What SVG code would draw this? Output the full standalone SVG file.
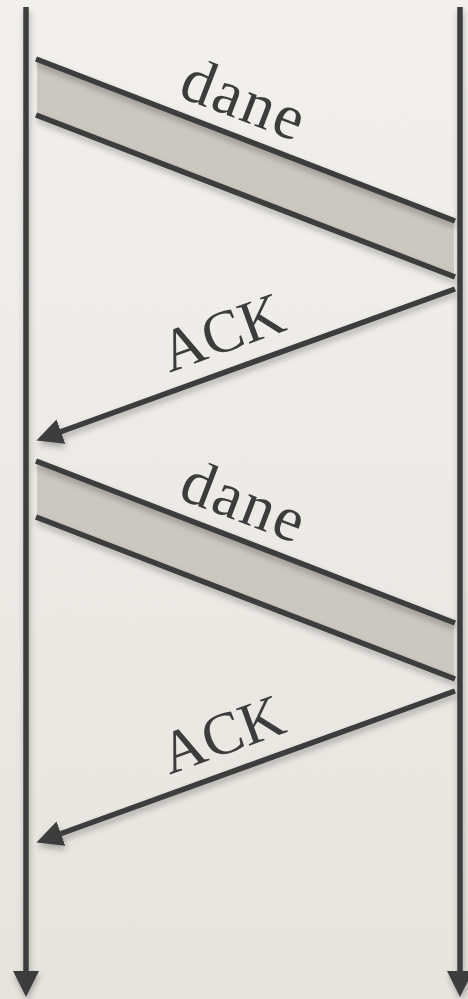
<svg xmlns="http://www.w3.org/2000/svg" width="468" height="999" viewBox="0 0 468 999">
<style>
.ln{stroke:#3c3c3c;stroke-width:5.5;fill:none}
.band{fill:#ccc7bf}
.lbl{font-family:"Liberation Serif","Times New Roman",serif;fill:#3c3c3c}
.d{font-size:64px;letter-spacing:2px}
.a{font-size:60px}
</style>
<defs>
<linearGradient id="bg" x1="0" y1="0" x2="0" y2="1">
<stop offset="0" stop-color="#f4f2ed"/>
<stop offset="1" stop-color="#e8e5df"/>
</linearGradient>
<filter id="tex" x="0" y="0" width="1" height="1">
<feTurbulence type="fractalNoise" baseFrequency="0.9" numOctaves="2" seed="3" result="n"/>
<feColorMatrix in="n" type="matrix" values="0 0 0 0 0.55  0 0 0 0 0.53  0 0 0 0 0.5  0 0 0 0.06 0" result="c"/>
<feComposite in="c" in2="SourceGraphic" operator="over"/>
</filter>
<filter id="sh" x="-10%" y="-10%" width="120%" height="130%">
<feDropShadow dx="1" dy="4" stdDeviation="3" flood-color="#000" flood-opacity="0.28"/>
</filter>
<marker id="ah" viewBox="0 0 26 26" refX="1" refY="13" markerWidth="26" markerHeight="26" markerUnits="userSpaceOnUse" orient="auto">
<path d="M0,0 L26,13 L0,26 z" fill="#3c3c3c"/>
</marker>
</defs>
<rect width="468" height="999" fill="url(#bg)" filter="url(#tex)"/>
<g id="timelines" filter="url(#sh)">
<line class="ln" x1="26" y1="7" x2="26" y2="972" marker-end="url(#ah)"/>
<line class="ln" x1="460" y1="7" x2="460" y2="972" marker-end="url(#ah)"/>
</g>
<g id="dane1">
<polygon class="band" points="37,62 454,223 454,276 37,115"/>
<g filter="url(#sh)">
<line class="ln" x1="36" y1="59" x2="455" y2="221"/>
<line class="ln" x1="36" y1="115" x2="455" y2="277"/>
</g>
<text class="lbl d" x="237" y="119" text-anchor="middle" transform="rotate(21 237 119)">dane</text>
</g>
<g id="dane2" transform="translate(0,402)">
<polygon class="band" points="37,62 454,223 454,276 37,115"/>
<g filter="url(#sh)">
<line class="ln" x1="36" y1="59" x2="455" y2="221"/>
<line class="ln" x1="36" y1="115" x2="455" y2="277"/>
</g>
<text class="lbl d" x="237" y="119" text-anchor="middle" transform="rotate(21 237 119)">dane</text>
</g>
<g id="connectors" filter="url(#sh)">
<line class="ln" x1="455" y1="289" x2="60" y2="432" marker-end="url(#ah)"/>
<line class="ln" x1="455" y1="691" x2="60" y2="834" marker-end="url(#ah)"/>
</g>
<g id="ack1">
<text class="lbl a" x="229" y="351" text-anchor="middle" transform="rotate(-20 229 351)">ACK</text>
</g>
<g id="ack2">
<text class="lbl a" x="229" y="753" text-anchor="middle" transform="rotate(-20 229 753)">ACK</text>
</g>
</svg>
